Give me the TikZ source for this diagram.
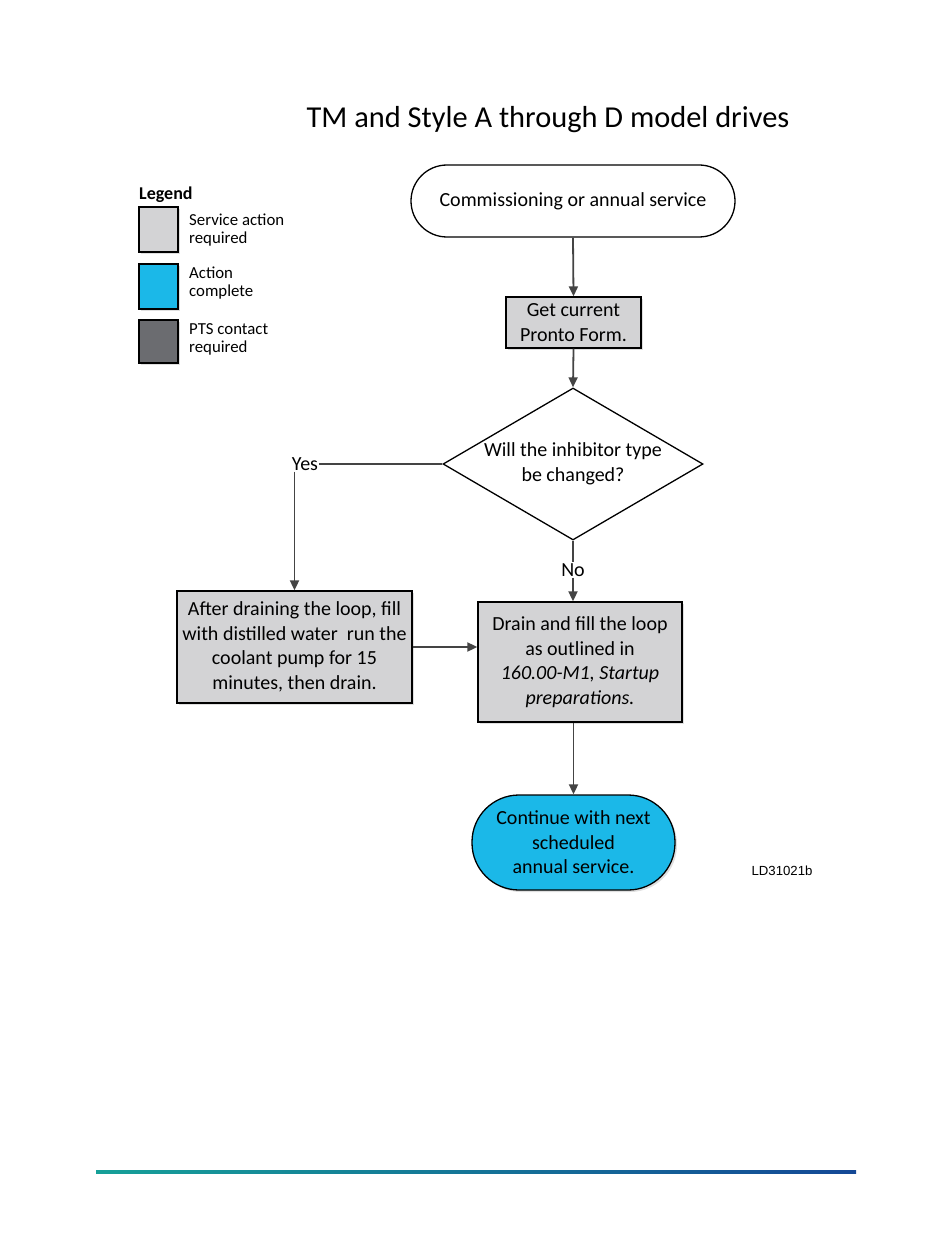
\documentclass[tikz,border=0pt]{standalone}
\usepackage{fontspec}
\setmainfont{Carlito}
\newfontfamily\arialfont{Liberation Sans}
\usetikzlibrary{shapes.geometric,arrows.meta,shadows}
\definecolor{boxgray}{RGB}{211,211,213}
\definecolor{doneblue}{RGB}{27,184,232}
\definecolor{ptsgray}{RGB}{107,108,112}
\definecolor{linegray}{RGB}{68,68,68}
\definecolor{footteal}{RGB}{22,160,152}
\definecolor{footblue}{RGB}{20,72,150}
\tikzset{
  x=1pt, y=1pt,
  shad/.style={drop shadow={opacity=0.25, shadow xshift=2pt, shadow yshift=-2pt}},
  body/.style={font=\fontsize{20}{24.5}\selectfont, align=center, text=black},
  actbox/.style={body, draw=black, line width=1.3pt, fill=boxgray, inner sep=0pt, shad},
  term/.style={body, draw=black, line width=1.3pt, rectangle, inner sep=0pt},
  decide/.style={draw=black, line width=1.3pt, diamond, inner sep=0pt,
    minimum width=260pt, minimum height=152pt},
  lbox/.style={draw=black, line width=1.3pt, minimum width=39pt, inner sep=0pt, shad},
  ltext/.style={font=\fontsize{16.8}{18}\selectfont, align=left, anchor=west, inner sep=0pt},
  arr/.style={draw=linegray, line width=1.8pt, -{Triangle[length=10pt,width=9pt]}},
  plain/.style={draw=linegray, line width=1.8pt},
  lab/.style={body, inner sep=1pt}
}
\begin{document}
\begin{tikzpicture}
\useasboundingbox (0,0) rectangle (950,-1241);
% title
\node[font=\fontsize{30.4}{33}\selectfont, inner sep=0pt] (title) at (548,-120) {TM and Style A through D model drives};
% legend
\node[font=\bfseries\fontsize{18}{20}\selectfont, anchor=west, inner sep=0pt] (legend) at (139,-195) {Legend};
\node[lbox, fill=boxgray, minimum height=45pt] (l1) at (158.5,-229.5) {};
\node[lbox, fill=doneblue, minimum height=45pt] (l2) at (158.5,-286.5) {};
\node[lbox, fill=ptsgray, minimum height=43pt] (l3) at (158.5,-341.5) {};
\node[ltext] (t1) at (189,-230) {Service action\\required};
\node[ltext] (t2) at (189,-283) {Action\\complete};
\node[ltext] (t3) at (189,-339) {PTS contact\\required};
% flow
\node[term, minimum width=324pt, minimum height=72pt, rounded corners=36pt] (start) at (573,-201) {Commissioning or annual service};
\node[actbox, minimum width=135pt, minimum height=51pt] (get) at (573.5,-322.5) {Get current\\Pronto Form.};
\node[decide, label={[body, inner sep=0pt]center:Will the inhibitor type\\be changed?}] (dia) at (573,-464) {};
\node[lab] (yes) at (305,-464) {Yes};
\node[lab] (no) at (573,-570) {No};
\node[actbox, minimum width=235pt, minimum height=112pt] (left) at (294.5,-647) {After draining the loop, fill\\with distilled water \ run the\\coolant pump for 15\\minutes, then drain.};
\node[actbox, minimum width=204pt, minimum height=120pt] (right) at (580,-662) {Drain and fill the loop\\as outlined in\\\textit{160.00-M1, Startup}\\\textit{preparations.}};
\node[term, fill=doneblue, minimum width=203pt, minimum height=95pt, rounded corners=47pt, shad] (done) at (573.5,-842.5) {Continue with next\\scheduled\\annual service.};
\node[font=\arialfont\fontsize{13.2}{15}\selectfont, inner sep=0pt] (ld) at (782,-871) {LD31021b};
% connectors
\draw[arr] (start.south) -- (get.north);
\draw[arr] (get.south) -- (dia.north);
\draw[plain] (dia.west) -- (yes.east);
\draw[arr] (yes.south -| left.north) -- (left.north);
\draw[plain] (dia.south) -- (no.north);
\draw[arr] (no.south) -- (no.south |- right.north);
\draw[arr] (left.east) -- (left.east -| right.west);
\draw[arr] (done.north |- right.south) -- (done.north);
% footer
\shade[left color=footteal, right color=footblue] (96,-1170.5) rectangle (856,-1173.5);
\end{tikzpicture}
\end{document}
